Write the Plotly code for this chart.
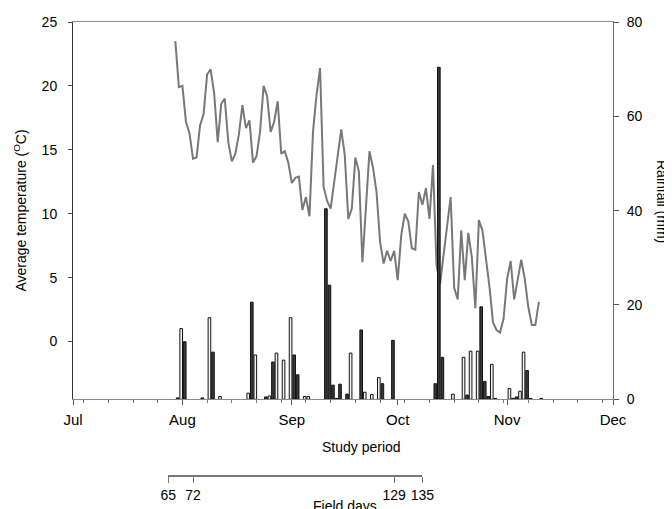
import plotly.graph_objects as go
import pandas as pd

# ---------------- data ----------------
x_range = ['2023-07-01', '2023-12-01']
temp_start = '2023-07-30'
temp_values = [23.5, 19.9, 20.0, 17.2, 16.3, 14.3, 14.4, 16.9, 17.8, 20.9,
               21.3, 19.4, 15.6, 18.6, 19.0, 15.6, 14.1, 14.7, 16.2, 18.5,
               16.7, 17.3, 14.0, 14.5, 16.4, 20.0, 19.2, 16.4, 17.2, 18.8,
               14.7, 14.9, 14.0, 12.4, 12.8, 12.9, 10.3, 11.3, 9.8, 16.4,
               19.3, 21.4, 12.1, 11.0, 10.4, 12.4, 14.6, 16.6, 14.6, 9.6,
               10.4, 14.4, 13.3, 6.2, 10.5, 14.9, 13.6, 11.7, 7.8, 6.1,
               7.1, 6.3, 7.1, 4.8, 8.3, 10.0, 9.4, 7.3, 7.2, 11.7,
               10.7, 12.0, 9.6, 13.8, 6.0, 4.5, 6.8, 9.0, 11.3, 4.2,
               3.3, 8.7, 4.8, 8.5, 6.6, 2.6, 9.5, 8.7, 6.6, 4.3,
               1.5, 0.9, 0.7, 1.8, 4.9, 6.3, 3.3, 4.8, 6.4, 4.9,
               2.7, 1.3, 1.3, 3.1]

dark_dates = ['2023-07-31', '2023-08-02', '2023-08-07', '2023-08-10', '2023-08-21',
              '2023-08-25', '2023-08-27', '2023-09-02', '2023-09-03', '2023-09-11',
              '2023-09-12', '2023-09-13', '2023-09-14', '2023-09-15', '2023-09-17',
              '2023-09-21', '2023-09-27', '2023-09-30', '2023-10-12', '2023-10-13',
              '2023-10-14', '2023-10-21', '2023-10-25', '2023-10-26', '2023-10-27',
              '2023-10-29', '2023-11-03', '2023-11-04', '2023-11-07', '2023-11-08',
              '2023-11-11']
dark_rain = [0.3, 12.2, 0.3, 10.0, 20.6,
             0.5, 7.9, 9.4, 5.2, 40.4,
             24.2, 3.0, 0.2, 3.2, 1.1,
             14.7, 3.3, 12.5, 3.3, 70.4,
             8.9, 0.9, 19.6, 3.8, 0.6,
             0.2, 0.2, 0.5, 6.1, 0.2,
             0.2]

light_dates = ['2023-08-01', '2023-08-09', '2023-08-12', '2023-08-20', '2023-08-22',
               '2023-08-26', '2023-08-28', '2023-08-30', '2023-09-01', '2023-09-05',
               '2023-09-06', '2023-09-18', '2023-09-22', '2023-09-24',
               '2023-09-26', '2023-10-17', '2023-10-20', '2023-10-22', '2023-10-24',
               '2023-10-28', '2023-11-02', '2023-11-05', '2023-11-06']
light_rain = [15.0, 17.3, 0.6, 1.3, 9.4,
              0.7, 9.8, 8.3, 17.3, 0.6,
              0.6, 9.8, 1.5, 1.0,
              4.6, 1.1, 8.9, 10.2, 10.2,
              7.4, 2.3, 1.7, 10.0]

field_days = [65, 72, 129, 135]
field_day_dates = ['2023-07-28', '2023-08-04', '2023-09-30', '2023-10-08']

temp_ticks = [0, 5, 10, 15, 20, 25]
rain_ticks = [0, 20, 40, 60, 80]

# ---------------- figure ----------------
DAY = 86400000
FONT = 'Liberation Sans, Arial, sans-serif'
fs = 14
W, H = 672, 509
OFF = 8  # the page body margin shifts the figure by 8 px
ml, mt = 73 - OFF, 22 - OFF
mr = W - (613 - OFF)
mb = H - (476 - OFF)
pw, ph = W - ml - mr, H - mt - mb

temp_dates = pd.date_range(temp_start, periods=len(temp_values), freq='D')

fig = go.Figure()
fig.add_trace(go.Scatter(x=temp_dates, y=temp_values, mode='lines',
                         line=dict(color='#787878', width=2),
                         xaxis='x', yaxis='y', showlegend=False))
fig.add_trace(go.Bar(x=pd.to_datetime(light_dates), y=light_rain,
                     width=0.75 * DAY, offset=-0.72 * DAY,
                     marker=dict(color='#f2f2f2', line=dict(color='#111111', width=1)),
                     xaxis='x', yaxis='y2', showlegend=False))
fig.add_trace(go.Bar(x=pd.to_datetime(dark_dates), y=dark_rain,
                     width=0.75 * DAY, offset=-0.72 * DAY,
                     marker=dict(color='#3a3a3a', line=dict(color='#111111', width=1)),
                     xaxis='x', yaxis='y2', showlegend=False))
# invisible trace so that the field-days axis is drawn
fig.add_trace(go.Scatter(x=pd.to_datetime(field_day_dates), y=[None] * len(field_days),
                         mode='markers', xaxis='x2', yaxis='y', showlegend=False,
                         hoverinfo='skip'))

x0 = pd.Timestamp(x_range[0]).value
x1 = pd.Timestamp(x_range[1]).value
fd = pd.to_datetime(field_day_dates)
fd_dom = [(fd[0].value - x0) / (x1 - x0), (fd[-1].value - x0) / (x1 - x0)]

ydom0 = (476 - 399.3) / (476 - 22)


def ann(text, px, py, angle=0):
    px, py = px - OFF, py - OFF
    return dict(text=text, xref='paper', yref='paper',
                x=(px - ml) / pw, y=1 - (py - mt) / ph,
                xanchor='center', yanchor='middle', textangle=angle,
                showarrow=False, font=dict(size=fs, family=FONT, color='#000000'))


fig.update_layout(
    width=W, height=H,
    margin=dict(l=ml, r=mr, t=mt, b=mb, autoexpand=False),
    paper_bgcolor='white', plot_bgcolor='rgba(0,0,0,0)',
    font=dict(family=FONT, size=fs, color='#000000'),
    barmode='overlay',
    xaxis=dict(type='date', range=x_range, domain=[0, 1], anchor='y',
               tick0=x_range[0], dtick='M1', tickformat='%b',
               showline=True, linecolor='#8a8a8a', linewidth=1, mirror=True,
               ticks='outside', ticklen=5, tickcolor='#555555',
               ticklabelstandoff=2, automargin=False,
               tickfont=dict(size=15),
               minor=dict(dtick=7 * DAY, tick0='2023-07-04', ticks='outside',
                          ticklen=3, tickcolor='#777777', showgrid=False),
               showgrid=False, zeroline=False),
    xaxis2=dict(type='date', range=[fd[0], fd[-1]], domain=fd_dom,
                anchor='free', position=0, side='bottom',
                tickvals=fd, ticktext=[str(v) for v in field_days],
                showline=True, linecolor='#7a7a7a', linewidth=1.5,
                ticks='outside', ticklen=6, tickcolor='#7a7a7a',
                ticklabelstandoff=0, automargin=False,
                showgrid=False, zeroline=False),
    yaxis=dict(range=[-4.52, 25], domain=[ydom0, 1], anchor='x',
               tickvals=temp_ticks, showline=True, linecolor='#333333', linewidth=1,
               ticks='outside', ticklen=4, tickcolor='#444444',
               ticklabelstandoff=8, automargin=False,
               showgrid=False, zeroline=False),
    yaxis2=dict(range=[0, 80], domain=[ydom0, 1], anchor='x', overlaying='y', side='right',
                tickvals=rain_ticks, showline=True, linecolor='#6a6a6a', linewidth=1,
                ticks='outside', ticklen=5, tickcolor='#555555',
                ticklabelstandoff=5, automargin=False,
                showgrid=False, zeroline=False),
    annotations=[
        ann('Study period', 361, 447),
        ann('Field days', 345, 506),
        ann('Average temperature (<sup>O</sup>C)', 20, 210.6, -90),
        ann('Rainfall (mm)', 662, 201, 90),
    ],
)

fig.write_html('out.html')
